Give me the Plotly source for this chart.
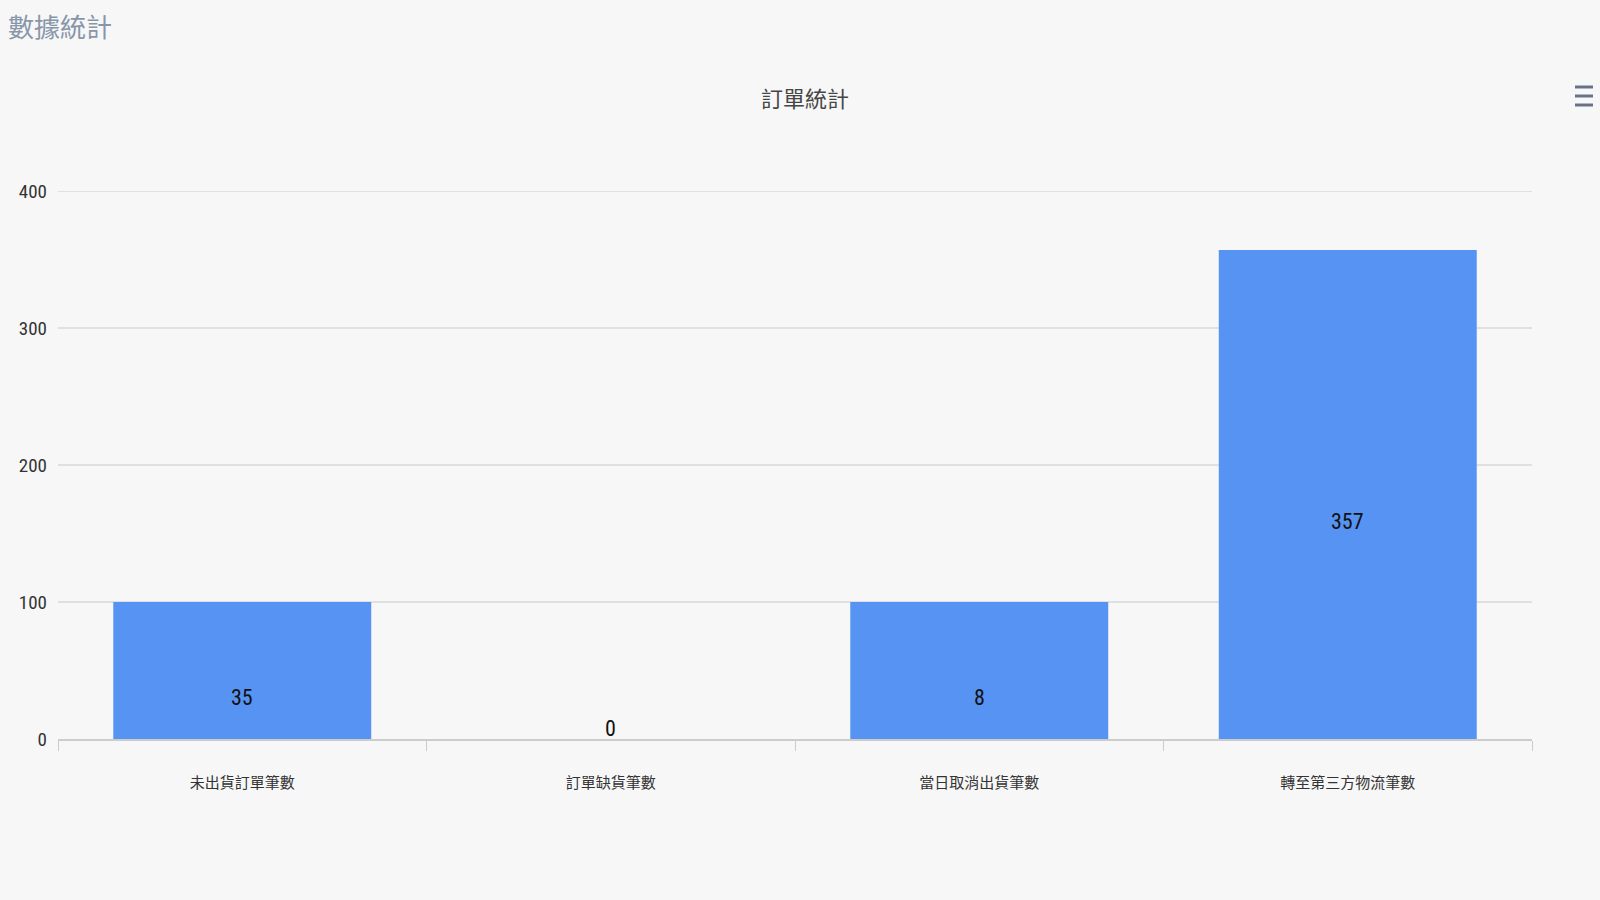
import plotly.graph_objects as go

categories = ["未出貨訂單筆數", "訂單缺貨筆數", "當日取消出貨筆數", "轉至第三方物流筆數"]
bar_values = [100, 0, 100, 357]
label_values = ["35", "0", "8", "357"]
y_ticks = [0, 100, 200, 300, 400]

BAR_COLOR = "#5793f3"
BG = "#f7f7f7"
NUM_FONT = "Liberation Sans Narrow, Arial Narrow, Roboto Condensed, Liberation Sans, sans-serif"
CJK_FONT = "Noto Sans CJK TC, Noto Sans CJK SC, sans-serif"

fig = go.Figure()
fig.add_trace(go.Bar(
    x=categories,
    y=bar_values,
    marker=dict(color=BAR_COLOR, line=dict(width=0)),
    hoverinfo="skip",
))

annotations = []
for c, v, lab in zip(categories, bar_values, label_values):
    if v > 0:
        annotations.append(dict(x=c, y=v / 2, text=lab, showarrow=False, xref="x", yref="y",
                                yanchor="middle", yshift=-27,
                                font=dict(family=NUM_FONT, size=22, color="#111111")))
    else:
        annotations.append(dict(x=c, y=0, text=lab, showarrow=False, xref="x", yref="y",
                                yanchor="middle", yshift=11,
                                font=dict(family=NUM_FONT, size=22, color="#111111")))

annotations.append(dict(xref="paper", yref="paper", x=-52 / 1474, y=1 + (191 - 26) / 548,
                        xanchor="left", yanchor="middle", text="數據統計", showarrow=False,
                        font=dict(family=CJK_FONT, size=26, color="#8896aa")))
annotations.append(dict(xref="paper", yref="paper", x=(805 - 58) / 1474, y=1 + (191 - 97) / 548,
                        xanchor="center", yanchor="middle", text="訂單統計", showarrow=False,
                        font=dict(family=CJK_FONT, size=22, color="#464646")))

shapes = []
# top gridline at the upper edge of the value range
shapes.append(dict(type="line", xref="paper", yref="y", x0=0, x1=1, y0=y_ticks[-1], y1=y_ticks[-1],
                   line=dict(color="#e0e0e0", width=2), layer="below"))
for yy in (87, 96, 105):
    yp = 1 + (191 - yy) / 548
    shapes.append(dict(type="line", xref="paper", yref="paper",
                       x0=(1575 - 58) / 1474, x1=(1593 - 58) / 1474, y0=yp, y1=yp,
                       line=dict(color="#66738a", width=3)))

fig.update_layout(
    width=1600, height=900,
    margin=dict(l=58, r=68, t=191, b=161),
    paper_bgcolor=BG, plot_bgcolor=BG,
    bargap=0.30,
    showlegend=False,
    annotations=annotations,
    shapes=shapes,
    xaxis=dict(
        type="category",
        showgrid=False,
        showline=True, linecolor="#cccccc", linewidth=2,
        ticks="outside", tickson="boundaries", ticklen=10, tickcolor="#cccccc",
        tickfont=dict(family=CJK_FONT, size=15, color="#333333"),
        ticklabelstandoff=29,
        fixedrange=True,
    ),
    yaxis=dict(
        range=[0, 400],
        tickvals=y_ticks,
        ticktext=[str(t) for t in y_ticks],
        showgrid=True, gridcolor="#e0e0e0", gridwidth=2,
        zeroline=False,
        showline=False,
        ticks="",
        tickfont=dict(family=NUM_FONT, size=19, color="#333333"),
        ticklabelstandoff=10,
        fixedrange=True,
    ),
)

fig.write_html("out.html", config={"displayModeBar": False})
